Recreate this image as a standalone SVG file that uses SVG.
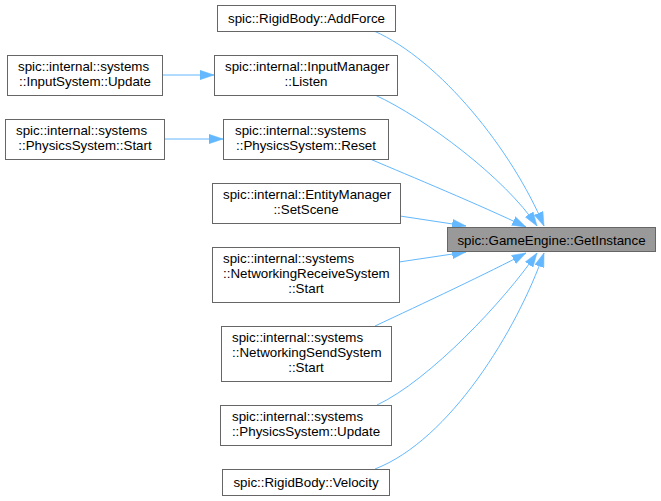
<svg xmlns="http://www.w3.org/2000/svg" width="661" height="501" viewBox="0 0 661 501">
<style>
.n rect{fill:#ffffff;stroke:#666666;stroke-width:1}
.n.t rect{fill:#999999}
text{font-family:"Liberation Sans",Arial,Helvetica,sans-serif;font-size:13.33px;fill:#000000}
.c{text-anchor:middle}
.e path{fill:none;stroke:#63b8ff;stroke-width:1}
</style>
<defs>
<marker id="ah" viewBox="0 0 14 10" refX="14" refY="5" markerWidth="14" markerHeight="10" markerUnits="userSpaceOnUse" orient="auto">
<path d="M0,0.3 L14,5 L0,9.7 z" fill="#63b8ff" stroke="#63b8ff" stroke-width="0.5"/>
</marker>
</defs>
<rect width="661" height="501" fill="#ffffff"/>
<g id="edges" class="e">
<path d="M374,31 C440,60 512,150 544,226" marker-end="url(#ah)"/>
<path d="M375,95 C425,118 505,178 537,226" marker-end="url(#ah)"/>
<path d="M370,159 C410,176 480,205 526,227" marker-end="url(#ah)"/>
<path d="M400,216 L466,226" marker-end="url(#ah)"/>
<path d="M399,262 L466,252" marker-end="url(#ah)"/>
<path d="M375,326 C420,305 490,272 526,253" marker-end="url(#ah)"/>
<path d="M377,405 C430,380 505,300 537,253" marker-end="url(#ah)"/>
<path d="M375,469 C450,440 517,330 544,253" marker-end="url(#ah)"/>
<path d="M162,75 L214,75" marker-end="url(#ah)"/>
<path d="M164,139 L223,139" marker-end="url(#ah)"/>
</g>
<g id="target" class="n t">
<rect x="447.5" y="227.5" width="208" height="24"/>
<text class="c" x="551.5" y="244.5">spic::GameEngine::GetInstance</text>
</g>
<g id="addforce" class="n">
<rect x="217.5" y="5.5" width="178" height="26"/>
<text class="c" x="306.5" y="23">spic::RigidBody::AddForce</text>
</g>
<g id="listen" class="n">
<rect x="214.5" y="55.5" width="183" height="40"/>
<text x="225" y="71">spic::internal::InputManager</text>
<text class="c" x="306" y="86">::Listen</text>
</g>
<g id="reset" class="n">
<rect x="223.5" y="119.5" width="165" height="40"/>
<text x="235" y="135">spic::internal::systems</text>
<text class="c" x="306" y="150">::PhysicsSystem::Reset</text>
</g>
<g id="setscene" class="n">
<rect x="212.5" y="183.5" width="188" height="40"/>
<text x="223" y="199">spic::internal::EntityManager</text>
<text class="c" x="306" y="214">::SetScene</text>
</g>
<g id="recvstart" class="n">
<rect x="212.5" y="247.5" width="187" height="55"/>
<text x="223" y="263">spic::internal::systems</text>
<text x="223" y="278">::NetworkingReceiveSystem</text>
<text class="c" x="306" y="293">::Start</text>
</g>
<g id="sendstart" class="n">
<rect x="221.5" y="326.5" width="170" height="55"/>
<text x="232" y="342">spic::internal::systems</text>
<text x="232" y="357">::NetworkingSendSystem</text>
<text class="c" x="306" y="372">::Start</text>
</g>
<g id="physupdate" class="n">
<rect x="220.5" y="405.5" width="171" height="40"/>
<text x="232" y="421">spic::internal::systems</text>
<text class="c" x="306" y="436">::PhysicsSystem::Update</text>
</g>
<g id="velocity" class="n">
<rect x="222.5" y="469.5" width="167" height="26"/>
<text class="c" x="306" y="487">spic::RigidBody::Velocity</text>
</g>
<g id="inputupdate" class="n">
<rect x="7.5" y="55.5" width="155" height="40"/>
<text x="18" y="71">spic::internal::systems</text>
<text class="c" x="85" y="86">::InputSystem::Update</text>
</g>
<g id="physstart" class="n">
<rect x="5.5" y="119.5" width="159" height="40"/>
<text x="16" y="135">spic::internal::systems</text>
<text class="c" x="85" y="150">::PhysicsSystem::Start</text>
</g>
</svg>
